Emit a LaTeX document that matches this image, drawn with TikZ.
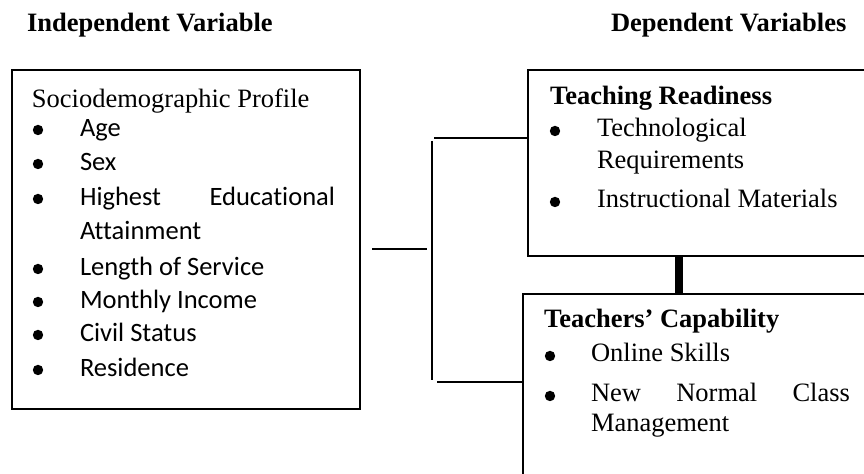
\documentclass[tikz,border=0pt]{standalone}
\usepackage{fontspec}
\setmainfont{Liberation Serif}
\newfontfamily\calfont[Ligatures=NoCommon]{Carlito}
\begin{document}
\begin{tikzpicture}[x=0.5pt,y=-0.5pt,
  every node/.style={inner sep=0pt, outer sep=0pt},
  txt/.style={anchor=base west, font=\fontsize{13.25}{15}\selectfont},
  cal/.style={anchor=base west, font=\fontsize{13.25}{15}\selectfont\calfont},
  hdr/.style={anchor=base west, font=\fontsize{13.25}{15}\selectfont\bfseries},
  bul/.style={circle, fill=black, minimum size=5.2pt},
  frame/.style={draw, line width=0.75pt, rectangle},
  conn/.style={line width=0.75pt},
  thickconn/.style={line width=4pt}]
\useasboundingbox (0,0) rectangle (864,474);
\clip (0,0) rectangle (864,474);

% headers
\node[hdr] (h1) at (27,32) {Independent Variable};
\node[hdr] (h2) at (611,32) {Dependent Variables};

% boxes
\node[frame, minimum width=174pt, minimum height=169.5pt] (iv) at (186,239.5) {};
\node[frame, minimum width=186pt, minimum height=93pt] (tr) at (714,163) {};
\node[frame, minimum width=188.5pt, minimum height=113pt] (tc) at (711.5,407) {};

% left box text
\node[txt] (soc) at (32,108) {Sociodemographic Profile};
\foreach \yy [count=\i] in {130,164,199,269,302,335,370}
  \node[bul] (lb\i) at (38,\yy) {};
\node[cal] (i1) at (80,137) {Age};
\node[cal] (i2) at (80,171) {Sex};
\node[cal] (i3) at (80,206) {\makebox[127.5pt][s]{Highest Educational}};
\node[cal] (i3b) at (80,240) {Attainment};
\node[cal] (i4) at (80,276) {Length of Service};
\node[cal] (i5) at (80,309) {Monthly Income};
\node[cal] (i6) at (80,342) {Civil Status};
\node[cal] (i7) at (80,377) {Residence};

% top right box text
\node[hdr] (trt) at (550,105) {Teaching Readiness};
\node[bul] (rb1) at (555,131) {};
\node[bul] (rb2) at (555,202) {};
\node[txt] (r1) at (597,137) {Technological};
\node[txt] (r1b) at (597,169) {Requirements};
\node[txt] (r2) at (597,208) {Instructional Materials};

% bottom right box text
\node[hdr] (tct) at (544,328) {Teachers’ Capability};
\node[bul] (cb1) at (550,356) {};
\node[bul] (cb2) at (550,396) {};
\node[txt] (c1) at (591,362) {Online Skills};
\node[txt] (c2) at (591,402) {\makebox[129.5pt][s]{New Normal Class}};
\node[txt] (c2b) at (591,432) {Management};

% connectors
\coordinate (s1) at (372,249);
\coordinate (s2) at (427,249);
\coordinate (v1) at (432,141);
\coordinate (v2) at (432,380);
\coordinate (t1) at (434,138);
\coordinate (b1) at (437,382);
\coordinate (tk) at (678.5,0);
\draw[conn] (s1) -- (s2);
\draw[conn] (v1) -- (v2);
\draw[conn] (t1) -- (t1 -| tr.west);
\draw[conn] (b1) -- (b1 -| tc.west);
\draw[thickconn] (tk |- tr.south) -- (tk |- tc.north);
\end{tikzpicture}
\end{document}
